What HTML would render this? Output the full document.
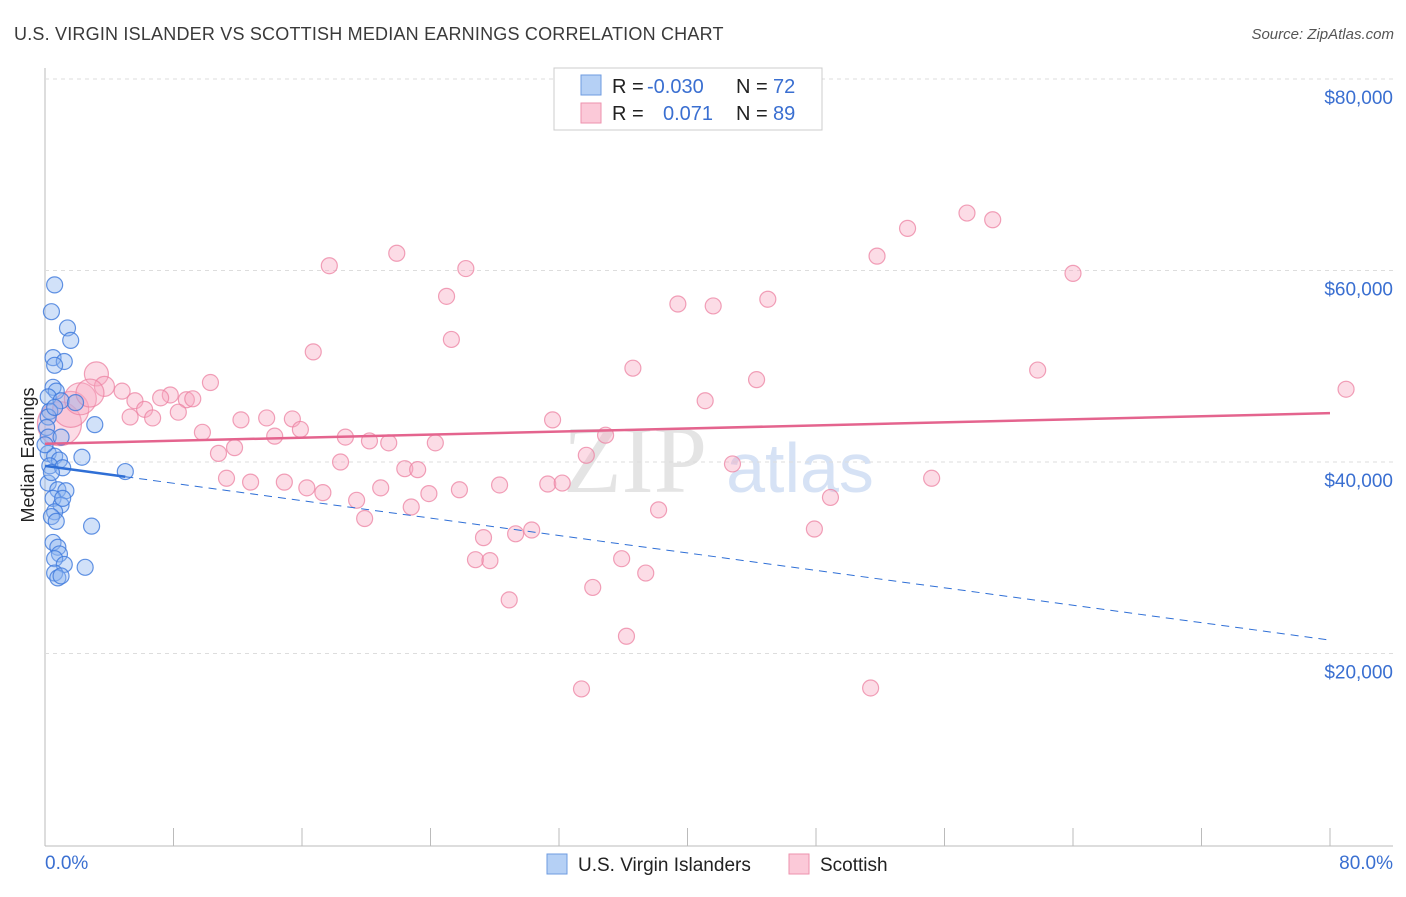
<!DOCTYPE html>
<html><head><meta charset="utf-8"><style>
body{margin:0;background:#fff;font-family:"Liberation Sans",sans-serif;}
</style></head><body>
<svg id="c" width="1406" height="892" xmlns="http://www.w3.org/2000/svg">
<text x="14" y="40" font-size="18" fill="#3a3a3a" letter-spacing="0.2">U.S. VIRGIN ISLANDER VS SCOTTISH MEDIAN EARNINGS CORRELATION CHART</text>
<text x="1394" y="39" font-size="15" fill="#555" font-style="italic" text-anchor="end">Source: ZipAtlas.com</text>
<text x="635" y="492" font-size="96" fill="#e4e4e4" font-family="Liberation Serif,serif" text-anchor="middle">ZIP</text>
<text x="800" y="492" font-size="70" fill="#d6e2f5" text-anchor="middle">atlas</text>
<g id="grid"></g><g id="marks"></g>
<text transform="translate(34,455) rotate(-90)" font-size="18" fill="#222" text-anchor="middle">Median Earnings</text>
<text x="45" y="869" font-size="19" fill="#3a6fd1">0.0%</text>
<text x="1393" y="869" font-size="19" fill="#3a6fd1" text-anchor="end">80.0%</text>
<g>
<rect x="554" y="68" width="268" height="62" fill="#fff" stroke="#ccc"/>
<rect x="581" y="75" width="20" height="20" fill="#b5d0f5" stroke="#6e9be0"/>
<rect x="581" y="103" width="20" height="20" fill="#fbc9d8" stroke="#ee92ae"/>
<text x="612" y="93" font-size="20" fill="#222">R =</text>
<text x="647" y="93" font-size="20" fill="#3a6fd1">-0.030</text>
<text x="736" y="93" font-size="20" fill="#222">N =</text>
<text x="773" y="93" font-size="20" fill="#3a6fd1">72</text>
<text x="612" y="120" font-size="20" fill="#222">R =</text>
<text x="663" y="120" font-size="20" fill="#3a6fd1">0.071</text>
<text x="736" y="120" font-size="20" fill="#222">N =</text>
<text x="773" y="120" font-size="20" fill="#3a6fd1">89</text>
</g>
<g>
<rect x="547" y="854" width="20" height="20" fill="#b5d0f5" stroke="#6e9be0"/>
<text x="578" y="871" font-size="19" fill="#222">U.S. Virgin Islanders</text>
<rect x="789" y="854" width="20" height="20" fill="#fbc9d8" stroke="#ee92ae"/>
<text x="820" y="871" font-size="19" fill="#222">Scottish</text>
</g>
</svg>
<script>
const yTicks=[20000,40000,60000,80000];
const yTickLabels=["$20,000","$40,000","$60,000","$80,000"];
const blueX=[0.6,0.4,1.4,1.6,0.5,1.2,0.6,0.5,0.7,0.2,1.0,1.9,0.3,0.2,0.1,0.2,1.0,3.1,2.3,0.2,0.6,0.9,5.0,0.3,1.1,0.2,0.8,1.3,0.5,1.0,0.6,0.4,2.9,0.5,0.8,0.9,0.6,1.2,2.5,0.6,0.8,1.0,0.6,0.0,0.4,0.7,1.1];
const blueY=[58500,55700,54000,52700,50900,50500,50100,47800,47400,46800,46400,46200,45300,44700,43600,42600,42600,43900,40500,40900,40600,40200,39000,39600,39400,37800,37100,37000,36200,35500,34800,34300,33300,31600,31100,30400,29900,29300,29000,28400,27900,28100,45700,41800,38900,33800,36200];
const pinkX=[81.0,57.4,59.0,53.7,51.8,64.0,17.7,21.9,26.2,25.0,39.4,41.6,45.0,25.3,16.7,36.6,61.8,44.3,41.1,10.3,4.8,3.2,3.7,5.6,8.8,9.2,7.8,7.2,6.2,5.3,8.3,6.7,9.8,12.2,13.8,15.4,14.3,15.9,18.7,20.2,21.4,24.3,31.6,34.9,33.7,10.8,11.8,18.4,22.4,23.2,42.8,11.3,12.8,14.9,16.3,17.3,20.9,23.9,25.8,28.3,31.3,32.2,55.2,19.4,22.8,19.9,48.9,38.2,29.3,30.3,27.3,26.8,27.7,35.9,37.4,47.9,34.1,28.9,36.2,33.4,51.4,0.9,1.6,2.2,2.8];
const pinkY=[47600,66000,65300,64400,61500,59700,60500,61800,60200,57300,56500,56300,57000,52800,51500,49800,49600,48600,46400,48300,47400,49200,47900,46400,46500,46600,47000,46700,45500,44700,45200,44600,43100,44400,44600,44500,42700,43400,42600,42200,42000,42000,44400,42800,40700,40900,41500,40000,39300,39200,39800,38300,37900,37900,37300,36800,37300,36700,37100,37600,37700,37800,38300,36000,35300,34100,36300,35000,32500,32900,32100,29800,29700,29900,28400,33000,26900,25600,21800,16300,16400,44000,45500,46600,47200];
const pinkR=[8,8,8,8,8,8,8,8,8,8,8,8,8,8,8,8,8,8,8,8,8,12,10,8,8,8,8,8,8,8,8,8,8,8,8,8,8,8,8,8,8,8,8,8,8,8,8,8,8,8,8,8,8,8,8,8,8,8,8,8,8,8,8,8,8,8,8,8,8,8,8,8,8,8,8,8,8,8,8,8,8,22,18,16,14];
const blueTrend=[39600,21400];const pinkTrend=[41900,45100];
const X0=45,X1=1330,Y0=845,Y80=79;
const xs=v=>X0+(v/80)*(X1-X0);
const ys=v=>Y0-(v/80000)*(Y0-Y80);
const NS="http://www.w3.org/2000/svg";
const grid=document.getElementById('grid'),marks=document.getElementById('marks');
function mk(t,a,p){const e=document.createElementNS(NS,t);for(const k in a)e.setAttribute(k,a[k]);p.appendChild(e);return e;}
let ax=mk('line',{x1:45,y1:68,x2:45,y2:846,stroke:'#bbb'},grid);


let bx=mk('line',{x1:45,y1:846,x2:1393,y2:846,stroke:'#bbb'},grid);


for(let i=1;i<=10;i++){const x=X0+i*(X1-X0)/10;let t=mk('line',{x1:x,y1:828,x2:x,y2:846,stroke:'#bbb'},grid);

}
yTicks.forEach((v,i)=>{let g=mk('line',{x1:45,y1:ys(v),x2:1393,y2:ys(v),stroke:'#ddd','stroke-dasharray':'4,4'},grid);


let t=mk('text',{x:1393,y:ys(v)+25,'font-size':19,fill:'#3a6fd1','text-anchor':'end'},grid);t.textContent=yTickLabels[i];

});
pinkX.forEach((v,i)=>{let c=mk('circle',{cx:xs(v),cy:ys(pinkY[i]),r:pinkR[i],fill:'rgba(248,168,192,0.4)',stroke:'rgba(236,130,162,0.75)','stroke-width':1.2},marks);

});
blueX.forEach((v,i)=>{let c=mk('circle',{cx:xs(v),cy:ys(blueY[i]),r:8,fill:'rgba(140,180,240,0.4)',stroke:'rgba(60,120,220,0.8)','stroke-width':1.2},marks);

});
const bAt=p=>blueTrend[0]+(blueTrend[1]-blueTrend[0])*p/80;
let l1=mk('line',{x1:xs(0),y1:ys(bAt(0)),x2:xs(5),y2:ys(bAt(5)),stroke:'#2f6fd6','stroke-width':2.5},marks);


let l2=mk('line',{x1:xs(5),y1:ys(bAt(5)),x2:xs(80),y2:ys(bAt(80)),stroke:'#2f6fd6','stroke-width':1,'stroke-dasharray':'8,6'},marks);


let l3=mk('line',{x1:xs(0),y1:ys(pinkTrend[0]),x2:xs(80),y2:ys(pinkTrend[1]),stroke:'#e4648e','stroke-width':2.5},marks);


</script>
</body></html>
